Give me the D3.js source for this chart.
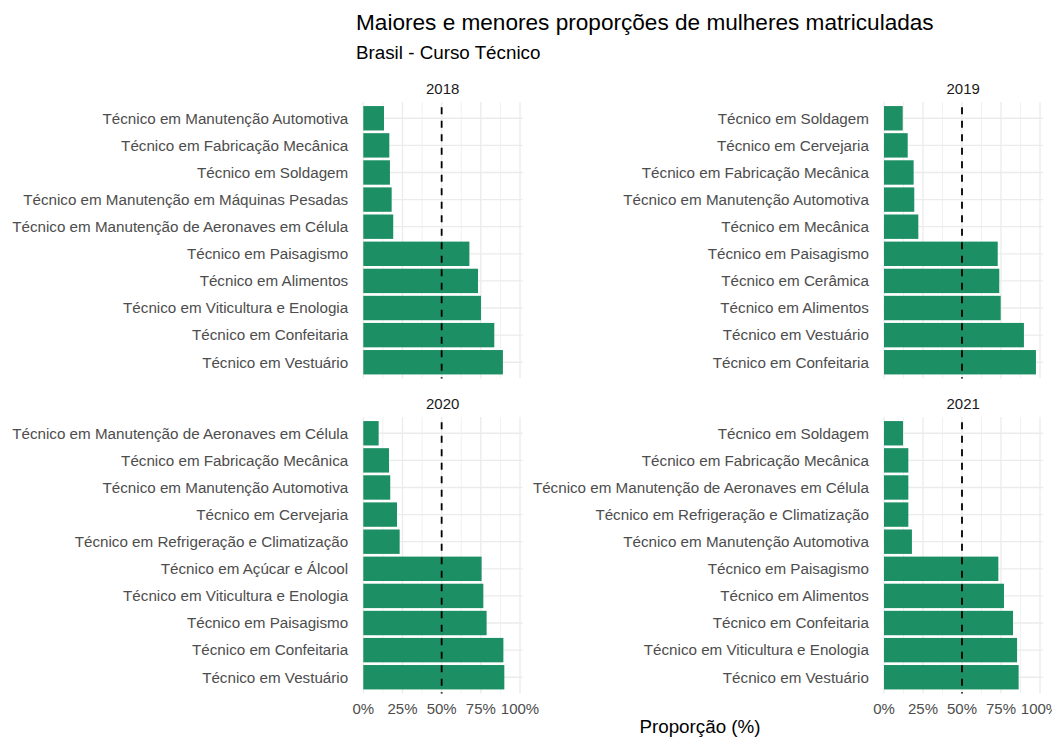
<!DOCTYPE html>
<html><head><meta charset="utf-8">
<script src="https://cdn.jsdelivr.net/npm/d3@7"></script>
<style>body{margin:0;background:#fff;} text{font-family:"Liberation Sans",Arial,sans-serif;}</style>
</head><body>
<svg id="chart" width="1052" height="738"></svg>
<script>
const years = ["2018", "2019", "2020", "2021"];
const cats2018 = ["Técnico em Manutenção Automotiva","Técnico em Fabricação Mecânica","Técnico em Soldagem","Técnico em Manutenção em Máquinas Pesadas","Técnico em Manutenção de Aeronaves em Célula","Técnico em Paisagismo","Técnico em Alimentos","Técnico em Viticultura e Enologia","Técnico em Confeitaria","Técnico em Vestuário"];
const vals2018 = [0.132,0.166,0.170,0.181,0.191,0.677,0.732,0.751,0.836,0.891];
const cats2019 = ["Técnico em Soldagem","Técnico em Cervejaria","Técnico em Fabricação Mecânica","Técnico em Manutenção Automotiva","Técnico em Mecânica","Técnico em Paisagismo","Técnico em Cerâmica","Técnico em Alimentos","Técnico em Vestuário","Técnico em Confeitaria"];
const vals2019 = [0.120,0.152,0.190,0.194,0.220,0.729,0.739,0.748,0.897,0.974];
const cats2020 = ["Técnico em Manutenção de Aeronaves em Célula","Técnico em Fabricação Mecânica","Técnico em Manutenção Automotiva","Técnico em Cervejaria","Técnico em Refrigeração e Climatização","Técnico em Açúcar e Álcool","Técnico em Viticultura e Enologia","Técnico em Paisagismo","Técnico em Confeitaria","Técnico em Vestuário"];
const vals2020 = [0.098,0.164,0.172,0.215,0.232,0.755,0.766,0.787,0.894,0.900];
const cats2021 = ["Técnico em Soldagem","Técnico em Fabricação Mecânica","Técnico em Manutenção de Aeronaves em Célula","Técnico em Refrigeração e Climatização","Técnico em Manutenção Automotiva","Técnico em Paisagismo","Técnico em Alimentos","Técnico em Confeitaria","Técnico em Viticultura e Enologia","Técnico em Vestuário"];
const vals2021 = [0.122,0.156,0.156,0.156,0.179,0.733,0.769,0.827,0.853,0.863];
const xTicks = [0, 0.25, 0.5, 0.75, 1];
const xTickLabels = ["0%", "25%", "50%", "75%", "100%"];
const refLine = 0.5;

const panels = [
  {year: years[0], cats: cats2018, vals: vals2018, col: 0, row: 0},
  {year: years[1], cats: cats2019, vals: vals2019, col: 1, row: 0},
  {year: years[2], cats: cats2020, vals: vals2020, col: 0, row: 1},
  {year: years[3], cats: cats2021, vals: vals2021, col: 1, row: 1}
];

const svg = d3.select("#chart");
const colX = [{l: 362.7, zero: 363.3, full: 520.0, r: 522.7}, {l: 883.4, zero: 884.0, full: 1040.0, r: 1043.0}];
const rowY = [{t: 102, b: 378.5}, {t: 417, b: 693.5}];
const barColor = "#1d8f64";

svg.append("text").attr("x", 356).attr("y", 30).attr("font-size", 22.6).attr("fill", "#000")
  .text("Maiores e menores proporções de mulheres matriculadas");
svg.append("text").attr("x", 356).attr("y", 59).attr("font-size", 18.8).attr("fill", "#000")
  .text("Brasil - Curso Técnico");

panels.forEach(p => {
  const cx = colX[p.col], ry = rowY[p.row];
  const x = d3.scaleLinear().domain([0, 1]).range([cx.zero, cx.full]);
  const y = d3.scaleBand().domain(p.cats).range([ry.t, ry.b]).paddingInner(0.1).paddingOuter(0.15);
  const g = svg.append("g");
  const minor = [0.125, 0.375, 0.625, 0.875];
  g.selectAll(".minor").data(minor).enter().append("line")
    .attr("x1", d => x(d)).attr("x2", d => x(d)).attr("y1", ry.t).attr("y2", ry.b)
    .attr("stroke", "#ebebeb").attr("stroke-width", 0.7);
  g.selectAll(".major").data(xTicks).enter().append("line")
    .attr("x1", d => x(d)).attr("x2", d => x(d)).attr("y1", ry.t).attr("y2", ry.b)
    .attr("stroke", "#ebebeb").attr("stroke-width", 1.3);
  g.selectAll(".hgrid").data(p.cats).enter().append("line")
    .attr("x1", cx.l).attr("x2", cx.r)
    .attr("y1", d => y(d) + y.bandwidth() / 2).attr("y2", d => y(d) + y.bandwidth() / 2)
    .attr("stroke", "#ebebeb").attr("stroke-width", 1.3);
  g.selectAll(".bar").data(p.vals).enter().append("rect")
    .attr("x", x(0)).attr("y", (d, i) => y(p.cats[i]))
    .attr("width", d => x(d) - x(0)).attr("height", y.bandwidth())
    .attr("fill", barColor);
  g.append("line").attr("x1", x(refLine)).attr("x2", x(refLine)).attr("y1", ry.t).attr("y2", ry.b)
    .attr("stroke", "#000").attr("stroke-width", 1.8)
    .attr("stroke-dasharray", "7,6.5").attr("stroke-dashoffset", 8.3);
  g.selectAll(".lab").data(p.cats).enter().append("text")
    .attr("x", cx.l - 14.5).attr("y", d => y(d) + y.bandwidth() / 2).attr("dy", "0.35em")
    .attr("text-anchor", "end").attr("font-size", 15.2).attr("fill", "#4d4d4d").text(d => d);
  svg.append("text").attr("x", (cx.l + cx.r) / 2).attr("y", ry.t - 8.5)
    .attr("text-anchor", "middle").attr("font-size", 15).attr("fill", "#1a1a1a").text(p.year);
  if (p.row === 1) {
    g.selectAll(".tick").data(xTicks).enter().append("text")
      .attr("x", d => x(d)).attr("y", ry.b + 15).attr("dy", "0.35em")
      .attr("text-anchor", "middle").attr("font-size", 15).attr("fill", "#4d4d4d")
      .text((d, i) => xTickLabels[i]);
  }
});

svg.append("text").attr("x", 700).attr("y", 733).attr("text-anchor", "middle")
  .attr("font-size", 18.8).attr("fill", "#000").text("Proporção (%)");
</script>
</body></html>
